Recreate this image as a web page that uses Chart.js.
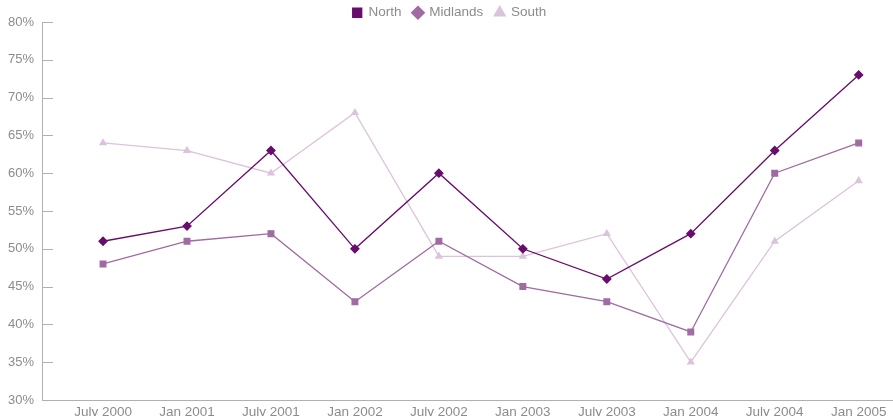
<!DOCTYPE html>
<html>
<head>
<meta charset="utf-8">
<script src="https://cdn.jsdelivr.net/npm/chart.js@4/dist/chart.umd.min.js"></script>
<style>
  html, body { margin: 0; padding: 0; background: #fff; overflow: hidden; }
  #wrap { position: absolute; left: 0; top: -6px; width: 899px; height: 426px; }
</style>
</head>
<body>
<div id="wrap"><canvas id="chart"></canvas></div>
<script>
const periods = ['July 2000', 'Jan 2001', 'July 2001', 'Jan 2002', 'July 2002',
  'Jan 2003', 'July 2003', 'Jan 2004', 'July 2004', 'Jan 2005'];
const north = [51, 53, 63, 50, 60, 50, 46, 52, 63, 73];
const midlands = [48, 51, 52, 43, 51, 45, 43, 39, 60, 64];
const south = [64, 63, 60, 68, 49, 49, 52, 35, 51, 59];
const yTicks = [30, 35, 40, 45, 50, 55, 60, 65, 70, 75, 80];

const grey = '#8c8c8c';
const axisGrey = '#b0b0b0';
const fontFamily = 'Liberation Sans, Arial, sans-serif';

function toPoints(values) {
  return values.map((v, i) => ({ x: i, y: v }));
}

// the original legend shows square / diamond / triangle in series order
const legendStyles = ['rect', 'rectRot', 'triangle'];

// short inner tick marks on the y axis
const innerTicks = {
  id: 'innerTicks',
  afterDraw(chart) {
    const y = chart.scales.y;
    const ctx = chart.ctx;
    ctx.save();
    ctx.strokeStyle = axisGrey;
    ctx.lineWidth = 1;
    y.ticks.forEach((t) => {
      const py = Math.round(y.getPixelForValue(t.value)) + 0.5;
      ctx.beginPath();
      ctx.moveTo(y.right, py);
      ctx.lineTo(y.right + 11, py);
      ctx.stroke();
    });
    ctx.restore();
  },
};

new Chart(document.getElementById('chart'), {
  type: 'line',
  data: {
    datasets: [
      {
        label: 'North',
        data: toPoints(north),
        borderColor: '#6a0b6e',
        backgroundColor: '#6a0b6e',
        borderWidth: 1.3,
        pointStyle: 'rectRot',
        pointRadius: 4,
        tension: 0,
      },
      {
        label: 'Midlands',
        data: toPoints(midlands),
        borderColor: '#a06aa2',
        backgroundColor: '#a06aa2',
        borderWidth: 1.3,
        pointStyle: 'rect',
        pointRadius: 4,
        tension: 0,
      },
      {
        label: 'South',
        data: toPoints(south),
        borderColor: '#dcc3dc',
        backgroundColor: '#dcc3dc',
        borderWidth: 1.3,
        pointStyle: 'triangle',
        pointRadius: 3.5,
        tension: 0,
      },
    ],
  },
  options: {
    responsive: true,
    maintainAspectRatio: false,
    animation: false,
    layout: { padding: 0 },
    plugins: {
      tooltip: { enabled: false },
      legend: {
        position: 'top',
        maxHeight: 28,
        labels: {
          color: grey,
          font: { family: fontFamily, size: 13.5 },
          usePointStyle: true,
          boxWidth: 9,
          boxHeight: 9,
          padding: 12,
          generateLabels(chart) {
            const items = Chart.defaults.plugins.legend.labels.generateLabels(chart);
            items.forEach((item, i) => {
              item.pointStyle = legendStyles[i];
              item.fontColor = grey;
            });
            return items;
          },
        },
      },
    },
    scales: {
      x: {
        type: 'linear',
        min: -0.727,
        max: 9.417,
        afterFit(scale) { scale.height = 20; },
        grid: { display: false, drawTicks: false },
        border: { display: true, color: axisGrey, width: 1 },
        ticks: {
          stepSize: 1,
          includeBounds: false,
          autoSkip: false,
          maxRotation: 0,
          padding: 4,
          color: grey,
          font: { family: fontFamily, size: 13.5 },
          callback: (v) => periods[v] ?? '',
        },
      },
      y: {
        min: yTicks[0],
        max: yTicks[yTicks.length - 1],
        afterFit(scale) { scale.width = 42; },
        grid: { drawOnChartArea: false, drawTicks: false },
        border: { display: true, color: axisGrey, width: 1 },
        ticks: {
          stepSize: 5,
          padding: 8,
          color: grey,
          font: { family: fontFamily, size: 13 },
          callback: (v) => v + '%',
        },
      },
    },
  },
  plugins: [innerTicks],
});
</script>
</body>
</html>
